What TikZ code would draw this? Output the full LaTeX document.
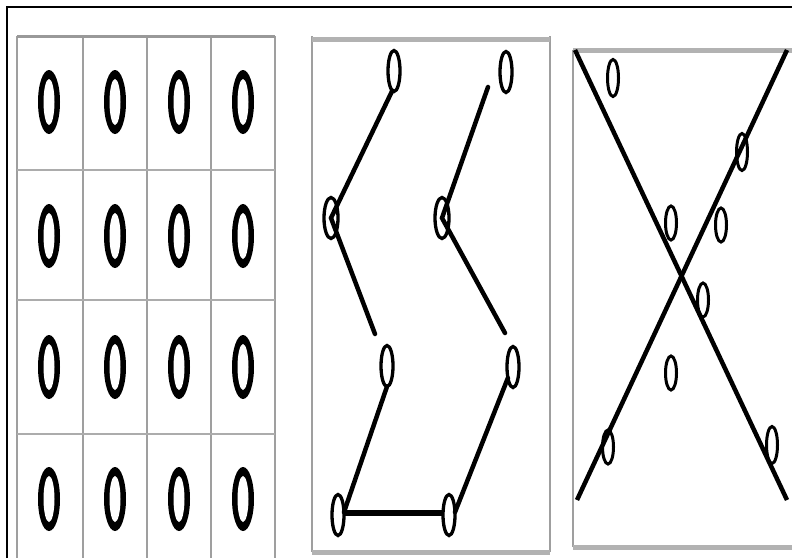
\documentclass[tikz,border=0pt]{standalone}
\usetikzlibrary{shapes.geometric}
\begin{document}
\begin{tikzpicture}[x=1pt,y=-1pt,
  digit/.style={ellipse,fill=black,minimum width=22pt,minimum height=64pt,inner sep=0pt,outer sep=0pt},
  ring/.style={ellipse,draw,line width=3.3pt,minimum width=12pt,minimum height=41pt,inner sep=0pt,outer sep=0pt},
  smallring/.style={ellipse,draw,line width=3pt,minimum width=11pt,minimum height=34pt,inner sep=0pt,outer sep=0pt},
  stroke/.style={line width=4.5pt,line cap=round},
  vline/.style={draw=gray!75,line width=1.3pt},
  hline/.style={draw=gray!65,line width=2.5pt},
  bar/.style={draw=gray!60,line width=5pt}]
\useasboundingbox (0,0) rectangle (792,558);
\fill[white] (0,0) rectangle (792,558);
% outer frame
\draw[line width=2pt] (7,558) -- (7,7) -- (792,7);

% ---------- panel 1: grid ----------
\foreach \x in {17,83,147,211,275} \draw[vline] (\x,36) -- (\x,558);
\draw[draw=gray!80,line width=3pt] (17,36) -- (275,36);
\foreach \y in {170,300,434} \draw[hline] (17,\y) -- (275,\y);
\foreach \y [count=\r] in {102,236,367,499}
  \foreach \x [count=\c] in {49,115,179,243}
    {\node[digit] (d\r\c) at (\x,\y) {};
     \fill[white] (d\r\c.center) ellipse (5.5pt and 23pt);}

% ---------- panel 2: zigzags ----------
\draw[vline] (312,36) -- (312,552);
\draw[vline] (550,36) -- (550,552);
\draw[bar] (312,39) -- (550,39);
\draw[bar] (312,552) -- (550,552);

\node[ring] (A1) at (394,71) {};
\node[ring,minimum width=14pt] (A2) at (331,218) {};
\node[ring] (A3) at (387,366) {};
\node[ring] (A4) at (338,515) {};
\node[ring] (B1) at (506,72) {};
\node[ring,minimum width=14pt] (B2) at (442,218) {};
\node[ring] (B3) at (513,367) {};
\node[ring] (B4) at (449,515) {};
\coordinate (a23) at (375,334);
\coordinate (b1s) at (488,87);
\coordinate (b23) at (505,333);

\draw[stroke] (A1.265) -- (A2.center) -- (a23);
\draw[stroke] (A3.270) -- (A4.25);
\draw[line width=6pt] (A4.15) -- (B4.165);
\draw[stroke] (b1s) -- (B2.center) -- (b23);
\draw[stroke] (B3.245) -- (B4.25);

% ---------- panel 3: X ----------
\draw[vline] (573,50) -- (573,547);
\draw[bar] (573,50) -- (792,50);
\draw[bar] (573,547) -- (792,547);
\coordinate (tl) at (575,50);
\coordinate (tr) at (787,50);
\coordinate (bl) at (577,500);
\coordinate (br) at (787,500);
\draw[line width=4.5pt] (tl) -- (br);
\draw[line width=4.5pt] (tr) -- (bl);

\node[smallring,minimum height=37pt] (C1) at (613,78) {};
\node[smallring,minimum height=37pt] (C2) at (742,152) {};
\node[smallring] (C3) at (671,223) {};
\node[smallring] (C4) at (721,225) {};
\node[smallring] (C5) at (703,300) {};
\node[smallring] (C6) at (671,373) {};
\node[smallring] (C7) at (608,447) {};
\node[smallring,minimum height=37pt] (C8) at (772,445) {};
\end{tikzpicture}
\end{document}
